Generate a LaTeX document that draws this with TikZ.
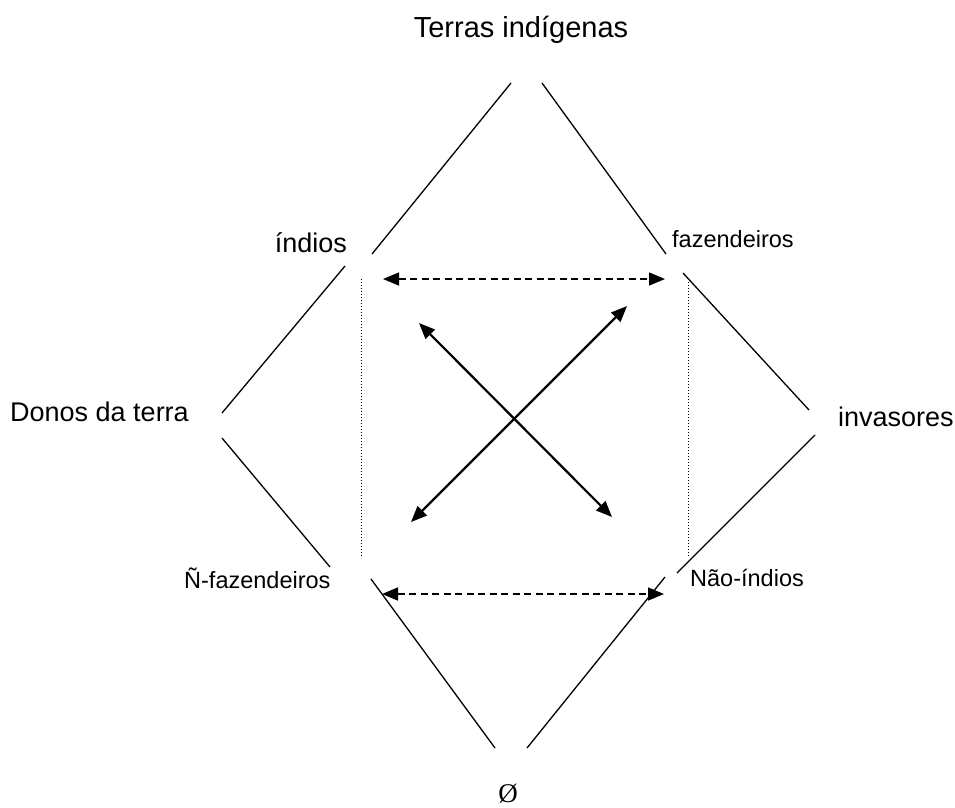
\documentclass[tikz,border=0pt]{standalone}
\usepackage{fontspec}
\setmainfont{Liberation Sans}
\newfontfamily\serifface{Liberation Serif}
\usetikzlibrary{arrows.meta}
\begin{document}
\begin{tikzpicture}[x=1pt,y=-1pt,
  side/.style={line width=1.3pt},
  pairarrow/.style={line width=1.5pt,dash pattern=on 7pt off 4.5pt,
    {Triangle[length=16pt,width=13pt]}-{Triangle[length=16pt,width=13pt]}},
  crossarrow/.style={line width=2.2pt,
    {Triangle[length=16pt,width=13pt]}-{Triangle[length=16pt,width=13pt]}},
  guide/.style={line width=0.9pt,dash pattern=on 1pt off 2pt},
  biglabel/.style={font=\fontsize{27}{31}\selectfont,inner sep=0pt},
  smalllabel/.style={font=\fontsize{23.5}{27}\selectfont,inner sep=0pt}]
\useasboundingbox (0,0) rectangle (955,807);

% labels at the corners of the square
\node[font=\fontsize{29}{33}\selectfont,inner sep=0pt,anchor=base] (terras) at (521,37) {Terras indígenas};
\node[biglabel,anchor=base east] (indios) at (347,252) {índios};
\node[smalllabel,anchor=base west] (faz) at (672,247) {fazendeiros};
\node[biglabel,anchor=base west] (donos) at (10,421) {Donos da terra};
\node[biglabel,anchor=base west] (inv) at (838,426) {invasores};
\node[smalllabel,anchor=base west] (nfaz) at (184,588) {Ñ-fazendeiros};
\node[smalllabel,anchor=base west] (nind) at (690,586) {Não-índios};
\node[font=\serifface\fontsize{27}{30}\selectfont,inner sep=0pt] (vazio) at (508,794) {Ø};

% end points of the outer segments
\coordinate (t1) at (511,83);  \coordinate (t2) at (372,254);
\coordinate (t3) at (542,83);  \coordinate (t4) at (666,254);
\coordinate (l1) at (345,266); \coordinate (l2) at (222,413);
\coordinate (l3) at (222,438); \coordinate (l4) at (330,567);
\coordinate (r1) at (683,273); \coordinate (r2) at (809,410);
\coordinate (r3) at (815,435); \coordinate (r4) at (677,573);
\coordinate (b1) at (371,579); \coordinate (b2) at (495,748);
\coordinate (b3) at (665,577); \coordinate (b4) at (527,748);

\draw[side] (t1) -- (t2);
\draw[side] (t3) -- (t4);
\draw[side] (l1) -- (l2);
\draw[side] (l3) -- (l4);
\draw[side] (r1) -- (r2);
\draw[side] (r3) -- (r4);
\draw[side] (b1) -- (b2);
\draw[side] (b4) -- (b3);

% dotted verticals
\coordinate (dl1) at (361,279); \coordinate (dl2) at (361,558);
\coordinate (dr1) at (688,282); \coordinate (dr2) at (688,557);
\draw[guide] (dl1) -- (dl2);
\draw[guide] (dr1) -- (dr2);

% dashed relations
\coordinate (ha1) at (383,279); \coordinate (ha2) at (665,279);
\coordinate (hb1) at (382,594); \coordinate (hb2) at (664,594);
\draw[pairarrow] (ha1) -- (ha2);
\draw[pairarrow] (hb1) -- (hb2);

% contradictions
\coordinate (x1) at (419,323); \coordinate (x2) at (612,517);
\coordinate (y1) at (411,522); \coordinate (y2) at (627,306);
\draw[crossarrow] (x1) -- (x2);
\draw[crossarrow] (y1) -- (y2);
\end{tikzpicture}
\end{document}
